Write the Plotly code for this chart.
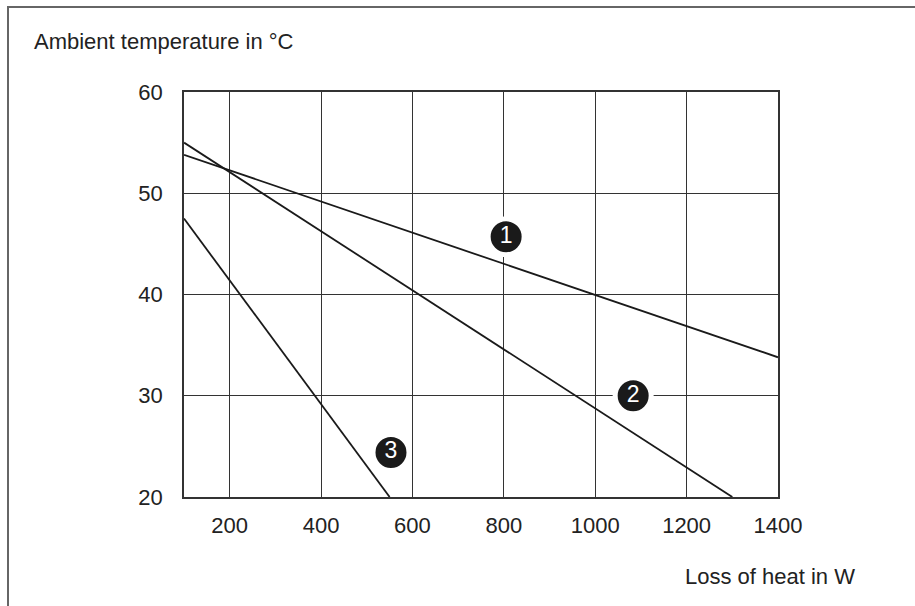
import plotly.graph_objects as go

# Data
curve_names = ["1", "2", "3"]
curve1_x = [100, 1400]
curve1_y = [53.8, 33.8]
curve2_x = [100, 1300]
curve2_y = [55.0, 20.0]
curve3_x = [100, 550]
curve3_y = [47.5, 20.0]

label_x = [805, 1083, 553]
label_y = [45.7, 30.0, 24.4]

x_ticks = [200, 400, 600, 800, 1000, 1200, 1400]
y_ticks = [20, 30, 40, 50, 60]

FONT = "Liberation Sans, Arial, sans-serif"
LINE_COLOR = "#1a1a1a"

fig = go.Figure()
for xs, ys in [(curve1_x, curve1_y), (curve2_x, curve2_y), (curve3_x, curve3_y)]:
    fig.add_trace(go.Scatter(x=xs, y=ys, mode="lines",
                             line=dict(color=LINE_COLOR, width=1.8),
                             showlegend=False, hoverinfo="skip", cliponaxis=True))

fig.add_trace(go.Scatter(
    x=label_x, y=label_y, mode="markers+text", text=curve_names,
    textposition="middle center",
    textfont=dict(family=FONT, size=23, color="white"),
    marker=dict(size=36, color="#1a1a1a", line=dict(color="white", width=5)),
    showlegend=False, hoverinfo="skip", cliponaxis=False))

# plot area in pixels: x 184..778, y 92..497
L, R, T, B = 184, 778, 92, 497
W, H = 915, 606
pw, ph = R - L, B - T

def px(xp):
    return (xp - L) / pw

def py(yp):
    return (B - yp) / ph

fig.update_layout(
    width=W, height=H,
    margin=dict(l=L, r=W - R, t=T, b=H - B, pad=0),
    paper_bgcolor="white", plot_bgcolor="white",
    font=dict(family=FONT, size=22, color="#222"),
    xaxis=dict(range=[100, 1400], tickvals=x_ticks, ticktext=[str(v) for v in x_ticks],
               showgrid=True, gridcolor="#333", gridwidth=1,
               showline=True, linecolor="#333", linewidth=1.5, mirror=True,
               ticks="outside", ticklen=8, tickcolor="rgba(0,0,0,0)",
               zeroline=False, fixedrange=True),
    yaxis=dict(range=[20, 60], tickvals=y_ticks, ticktext=[str(v) for v in y_ticks],
               showgrid=True, gridcolor="#333", gridwidth=1,
               showline=True, linecolor="#333", linewidth=1.5, mirror=True,
               ticks="outside", ticklen=15, tickcolor="rgba(0,0,0,0)",
               zeroline=False, fixedrange=True),
    annotations=[
        dict(text="Ambient temperature in °C", xref="paper", yref="paper",
             x=px(32), y=py(42), xanchor="left", yanchor="middle",
             showarrow=False, font=dict(family=FONT, size=22, color="#222")),
        dict(text="Loss of heat in W", xref="paper", yref="paper",
             x=px(683), y=py(576), xanchor="left", yanchor="middle",
             showarrow=False, font=dict(family=FONT, size=22, color="#222")),
    ],
    shapes=[
        dict(type="line", xref="paper", yref="paper", x0=px(8), x1=px(8),
             y0=py(7), y1=py(620), line=dict(color="#666", width=2)),
        dict(type="line", xref="paper", yref="paper", x0=px(7), x1=px(930),
             y0=py(7), y1=py(7), line=dict(color="#666", width=2)),
    ],
)

fig.write_html("out.html", config={"displayModeBar": False},
               post_script="document.body.style.margin='0';document.body.style.overflow='hidden';")
